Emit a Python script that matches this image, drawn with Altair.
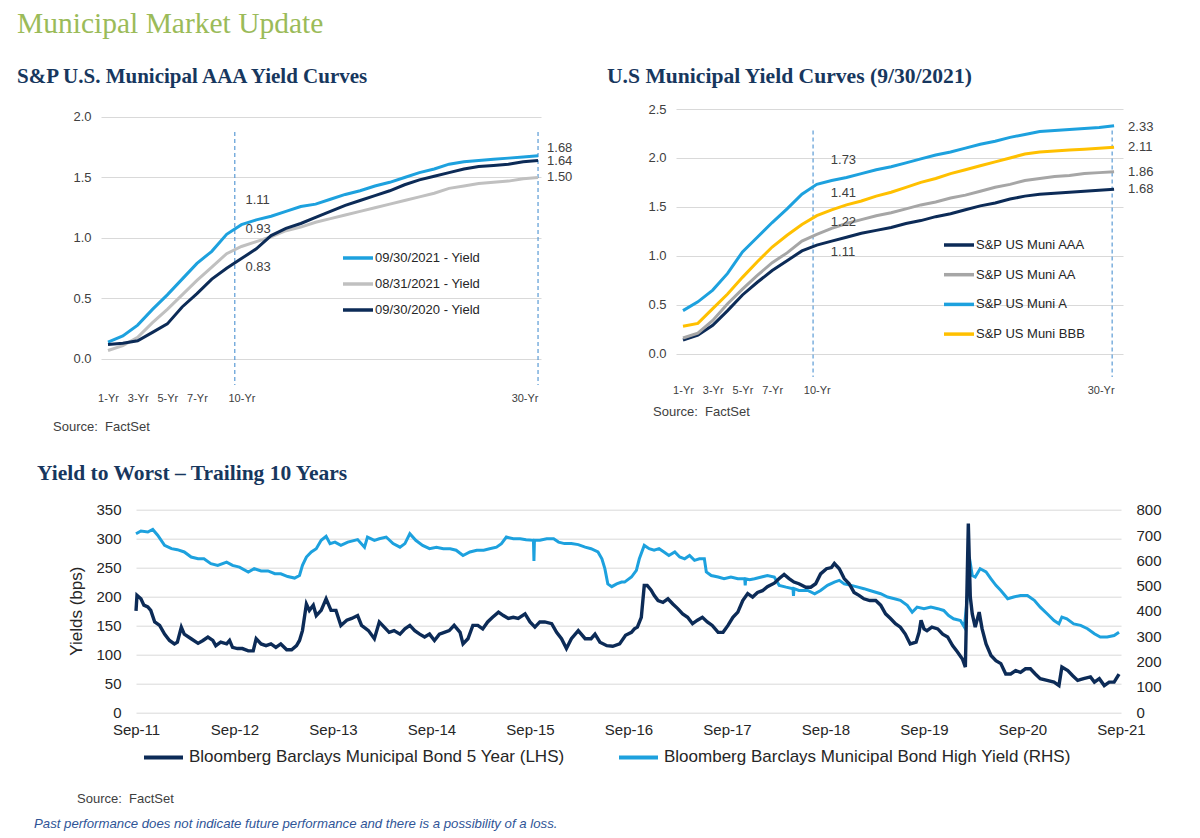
import altair as alt
import pandas as pd

# ---------------- data: S&P U.S. Municipal AAA yield curves (chart A) ----------------
tenors = list(range(1, 31))
a_names = ["09/30/2021 - Yield", "08/31/2021 - Yield", "09/30/2020 - Yield"]
a_sep21 = [0.14, 0.19, 0.28, 0.41, 0.53, 0.66, 0.79, 0.89, 1.03, 1.11, 1.15, 1.18, 1.22, 1.26, 1.28,
           1.32, 1.36, 1.39, 1.43, 1.46, 1.50, 1.54, 1.57, 1.61, 1.63, 1.64, 1.65, 1.66, 1.67, 1.68]
a_aug21 = [0.07, 0.11, 0.18, 0.30, 0.41, 0.53, 0.65, 0.76, 0.87, 0.93, 0.97, 1.01, 1.06, 1.09, 1.13,
           1.16, 1.19, 1.22, 1.25, 1.28, 1.31, 1.34, 1.37, 1.41, 1.43, 1.45, 1.46, 1.47, 1.49, 1.50]
a_sep20 = [0.12, 0.13, 0.15, 0.22, 0.29, 0.43, 0.54, 0.66, 0.75, 0.83, 0.91, 1.02, 1.08, 1.12, 1.17,
           1.22, 1.27, 1.31, 1.35, 1.39, 1.44, 1.48, 1.51, 1.54, 1.57, 1.59, 1.60, 1.61, 1.63, 1.64]
a_markers = [9.55, 30.0]

# ---------------- data: U.S. municipal yield curves by rating (chart B) ----------------
b_names = ["S&P US Muni AAA", "S&P US Muni AA", "S&P US Muni A", "S&P US Muni BBB"]
b_aaa = [0.14, 0.19, 0.29, 0.44, 0.60, 0.73, 0.85, 0.95, 1.05, 1.11, 1.15, 1.19, 1.23, 1.26, 1.29,
         1.33, 1.36, 1.40, 1.43, 1.47, 1.51, 1.54, 1.58, 1.61, 1.63, 1.64, 1.65, 1.66, 1.67, 1.68]
b_aa = [0.16, 0.21, 0.34, 0.51, 0.66, 0.80, 0.93, 1.03, 1.15, 1.22, 1.28, 1.33, 1.37, 1.41, 1.44,
        1.48, 1.52, 1.55, 1.59, 1.62, 1.66, 1.70, 1.73, 1.77, 1.79, 1.81, 1.82, 1.84, 1.85, 1.86]
b_a = [0.44, 0.53, 0.65, 0.82, 1.04, 1.19, 1.34, 1.48, 1.63, 1.73, 1.77, 1.80, 1.84, 1.88, 1.91,
       1.95, 1.99, 2.03, 2.06, 2.10, 2.14, 2.17, 2.21, 2.24, 2.27, 2.28, 2.29, 2.30, 2.31, 2.33]
b_bbb = [0.28, 0.31, 0.46, 0.61, 0.78, 0.94, 1.09, 1.21, 1.32, 1.41, 1.47, 1.52, 1.56, 1.61, 1.65,
         1.70, 1.75, 1.79, 1.84, 1.88, 1.92, 1.96, 2.00, 2.04, 2.06, 2.07, 2.08, 2.09, 2.10, 2.11]
b_markers = [9.75, 29.87]

# ---------------- data: yield to worst, trailing 10 years (chart C) ----------------
c_names = ["Bloomberg Barclays Municipal Bond 5 Year (LHS)",
           "Bloomberg Barclays Municipal Bond High Yield (RHS)"]
m5_t = [2011.70, 2011.71, 2011.75, 2011.78, 2011.82, 2011.85, 2011.89, 2011.94, 2011.99, 2012.04,
        2012.09, 2012.12, 2012.16, 2012.19, 2012.26, 2012.33, 2012.38, 2012.43, 2012.48, 2012.51,
        2012.56, 2012.62, 2012.65, 2012.68, 2012.73, 2012.78, 2012.84, 2012.89, 2012.92, 2012.97,
        2013.02, 2013.07, 2013.12, 2013.17, 2013.23, 2013.28, 2013.33, 2013.36, 2013.39, 2013.43,
        2013.46, 2013.50, 2013.53, 2013.58, 2013.63, 2013.68, 2013.73, 2013.78, 2013.84, 2013.89,
        2013.95, 2013.99, 2014.06, 2014.12, 2014.17, 2014.22, 2014.27, 2014.32, 2014.38, 2014.43,
        2014.48, 2014.53, 2014.58, 2014.63, 2014.68, 2014.73, 2014.78, 2014.83, 2014.88, 2014.93,
        2014.99, 2015.02, 2015.07, 2015.12, 2015.17, 2015.22, 2015.27, 2015.32, 2015.38, 2015.43,
        2015.48, 2015.53, 2015.58, 2015.65, 2015.70, 2015.75, 2015.80, 2015.85, 2015.92, 2015.97,
        2016.02, 2016.07, 2016.12, 2016.19, 2016.26, 2016.32, 2016.36, 2016.41, 2016.48, 2016.54,
        2016.61, 2016.67, 2016.73, 2016.76, 2016.79, 2016.83, 2016.86, 2016.89, 2016.93, 2016.96,
        2017.00, 2017.05, 2017.10, 2017.15, 2017.20, 2017.25, 2017.30, 2017.35, 2017.40, 2017.45,
        2017.50, 2017.55, 2017.61, 2017.66, 2017.71, 2017.76, 2017.81, 2017.86, 2017.91, 2017.96,
        2018.01, 2018.06, 2018.11, 2018.18, 2018.23, 2018.28, 2018.33, 2018.38, 2018.43, 2018.50,
        2018.55, 2018.60, 2018.65, 2018.71, 2018.76, 2018.79, 2018.84, 2018.89, 2018.94, 2018.99,
        2019.04, 2019.09, 2019.15, 2019.21, 2019.26, 2019.31, 2019.36, 2019.41, 2019.46, 2019.51,
        2019.56, 2019.62, 2019.65, 2019.67, 2019.70, 2019.73, 2019.78, 2019.84, 2019.89, 2019.94,
        2019.99, 2020.04, 2020.09, 2020.12, 2020.15, 2020.17, 2020.19, 2020.22, 2020.26, 2020.29,
        2020.33, 2020.38, 2020.43, 2020.48, 2020.53, 2020.58, 2020.63, 2020.68, 2020.73, 2020.78,
        2020.83, 2020.88, 2020.95, 2021.02, 2021.07, 2021.10, 2021.16, 2021.21, 2021.26, 2021.32,
        2021.39, 2021.43, 2021.48, 2021.53, 2021.58, 2021.63, 2021.68]
m5_v = [175, 202, 196, 185, 182, 176, 156, 150, 135, 124,
        118, 121, 147, 135, 127, 119, 124, 130, 124, 115,
        121, 118, 124, 112, 110, 110, 106, 106, 127, 118,
        115, 118, 112, 118, 108, 108, 115, 124, 141, 187,
        176, 185, 167, 176, 196, 176, 176, 150, 159, 162,
        167, 150, 141, 127, 156, 147, 138, 141, 135, 144,
        150, 141, 135, 130, 135, 124, 135, 138, 141, 150,
        138, 118, 127, 150, 150, 144, 156, 164, 173, 167,
        162, 164, 162, 170, 156, 147, 156, 156, 153, 138,
        127, 110, 127, 141, 127, 127, 135, 121, 115, 114,
        118, 133, 138, 144, 147, 164, 219, 219, 211, 202,
        193, 190, 196, 187, 179, 170, 164, 153, 159, 164,
        156, 150, 138, 138, 150, 164, 173, 193, 205, 199,
        207, 210, 217, 223, 231, 238, 231, 225, 222, 216,
        216, 222, 239, 248, 250, 257, 248, 231, 222, 207,
        202, 196, 193, 193, 185, 170, 162, 153, 147, 135,
        118, 121, 138, 159, 144, 141, 147, 144, 135, 130,
        115, 104, 92, 78, 326, 199, 170, 147, 173, 144,
        118, 98, 89, 84, 66, 66, 72, 69, 75, 75,
        66, 58, 55, 52, 46, 78, 72, 63, 55, 58,
        61, 52, 58, 46, 52, 52, 66]
hy_t = [2011.70, 2011.75, 2011.82, 2011.87, 2011.92, 2011.99, 2012.06, 2012.12, 2012.19, 2012.26,
        2012.33, 2012.39, 2012.46, 2012.53, 2012.62, 2012.68, 2012.75, 2012.84, 2012.90, 2012.97,
        2013.04, 2013.11, 2013.17, 2013.24, 2013.31, 2013.36, 2013.39, 2013.43, 2013.48, 2013.53,
        2013.58, 2013.63, 2013.67, 2013.72, 2013.78, 2013.85, 2013.95, 2014.02, 2014.05, 2014.12,
        2014.17, 2014.24, 2014.31, 2014.38, 2014.43, 2014.48, 2014.54, 2014.61, 2014.68, 2014.75,
        2014.82, 2014.89, 2014.95, 2015.02, 2015.09, 2015.16, 2015.23, 2015.29, 2015.36, 2015.41,
        2015.46, 2015.53, 2015.60, 2015.66, 2015.735, 2015.74, 2015.745, 2015.80, 2015.87, 2015.94,
        2015.99, 2016.05, 2016.12, 2016.19, 2016.26, 2016.32, 2016.39, 2016.43, 2016.46, 2016.49,
        2016.53, 2016.58, 2016.63, 2016.66, 2016.73, 2016.78, 2016.81, 2016.86, 2016.91, 2016.96,
        2017.01, 2017.06, 2017.11, 2017.17, 2017.22, 2017.27, 2017.32, 2017.37, 2017.42, 2017.47,
        2017.49, 2017.54, 2017.61, 2017.67, 2017.74, 2017.81, 2017.88, 2017.885, 2017.89, 2017.93,
        2017.98, 2018.05, 2018.11, 2018.18, 2018.23, 2018.30, 2018.37, 2018.375, 2018.38, 2018.43,
        2018.52, 2018.59, 2018.65, 2018.72, 2018.79, 2018.84, 2018.89, 2018.96, 2019.03, 2019.09,
        2019.15, 2019.26, 2019.33, 2019.40, 2019.46, 2019.53, 2019.58, 2019.63, 2019.70, 2019.77,
        2019.84, 2019.90, 2019.95, 2020.00, 2020.07, 2020.11, 2020.14, 2020.16, 2020.19, 2020.22,
        2020.27, 2020.33, 2020.38, 2020.43, 2020.48, 2020.55, 2020.61, 2020.68, 2020.75, 2020.82,
        2020.88, 2020.95, 2021.02, 2021.07, 2021.10, 2021.15, 2021.22, 2021.29, 2021.36, 2021.43,
        2021.49, 2021.56, 2021.63, 2021.68]
hy_v = [705, 716, 712, 722, 699, 659, 646, 642, 633, 613,
        606, 606, 587, 580, 593, 580, 573, 554, 567, 558,
        558, 547, 547, 536, 530, 540, 580, 613, 633, 646,
        679, 695, 666, 672, 659, 672, 682, 652, 692, 679,
        685, 692, 666, 652, 666, 705, 679, 659, 646, 652,
        646, 646, 640, 619, 633, 640, 640, 646, 652, 666,
        692, 685, 685, 681, 679, 597, 679, 679, 685, 685,
        672, 666, 666, 662, 652, 646, 633, 606, 567, 507,
        496, 507, 514, 514, 534, 560, 606, 659, 646, 640,
        646, 633, 619, 633, 613, 606, 619, 600, 606, 606,
        554, 540, 534, 527, 534, 527, 527, 501, 527, 523,
        527, 534, 540, 534, 501, 494, 488, 459, 488, 481,
        481, 468, 481, 501, 514, 521, 507, 501, 494, 488,
        481, 468, 455, 448, 442, 422, 395, 415, 409, 415,
        409, 402, 382, 369, 362, 336, 455, 613, 540, 534,
        567, 554, 527, 501, 481, 448, 455, 461, 461, 442,
        415, 389, 362, 349, 376, 369, 349, 343, 330, 310,
        297, 297, 303, 316]
sep_ticks = [2011.7 + k for k in range(11)]

# ---------------- styling ----------------
SANS = "Liberation Sans, Arial, sans-serif"
NARROW = "Liberation Sans Narrow, Liberation Sans, Arial, sans-serif"
SERIF = "Liberation Serif, Georgia, serif"
NAVY = "#0C2B57"
LBLUE = "#1DA1DE"
GRAY_A = "#C0C0C0"
GRAY_B = "#A6A6A6"
GOLD = "#FFC000"
TITLE = "#17375E"
GRID = "#D9D9D9"
DASH = "#5B9BD5"
LAB = "#404040"


def text_layer(txt, x, y, size=13, font=SANS, color=LAB, weight="normal", style="normal",
               align="left", baseline="middle"):
    return alt.Chart(pd.DataFrame({"t": [txt]})).mark_text(
        align=align, baseline=baseline, fontSize=size, font=font, color=color,
        fontWeight=weight, fontStyle=style
    ).encode(x=alt.value(x), y=alt.value(y), text="t:N")


def value_label(xval, yval, dx, dy, xscale, yscale):
    return alt.Chart(pd.DataFrame({"x": [xval], "y": [yval], "t": [f"{yval:.2f}"]})).mark_text(
        align="left", baseline="middle", fontSize=13, font=SANS, color=LAB, dx=dx, dy=dy
    ).encode(x=alt.X("x:Q", scale=xscale), y=alt.Y("y:Q", scale=yscale), text="t:N")


def curve_panel(names, series, colors, ydom, yvals, xdom, markers, mtop,
                legend_x, legend_y, row_pad, labels_mid, labels_end, mid_dx, end_dx):
    rows = []
    for n, vals in zip(names, series):
        for t, v in zip(tenors, vals):
            rows.append({"tenor": t, "value": v, "series": n})
    df = pd.DataFrame(rows)
    xscale = alt.Scale(domain=xdom, nice=False, zero=False)
    yscale = alt.Scale(domain=ydom, nice=False, zero=False)
    lines = alt.Chart(df).mark_line(strokeWidth=3).encode(
        x=alt.X("tenor:Q", scale=xscale, axis=alt.Axis(
            values=[1, 3, 5, 7, 10, 30], labelExpr="datum.value + '-Yr'", grid=False, domain=False,
            ticks=False, labelPadding=7, labelFontSize=11, labelFont=NARROW, labelColor=LAB,
            labelFlush=False,
            labelAlign=alt.condition("datum.value == 30", alt.value("right"), alt.value("center")),
            title=None)),
        y=alt.Y("value:Q", scale=yscale, axis=alt.Axis(
            values=yvals, format=".1f", grid=True, gridColor=GRID, domain=False, ticks=False,
            labelPadding=10, labelFontSize=13, labelFont=SANS, labelColor=LAB, title=None)),
        color=alt.Color("series:N", scale=alt.Scale(domain=names, range=colors), legend=alt.Legend(
            orient="none", legendX=legend_x, legendY=legend_y, title=None, symbolType="stroke",
            symbolSize=900, symbolStrokeWidth=3.5, labelFontSize=13, labelFont=SANS,
            labelColor="#262626", rowPadding=row_pad, labelOffset=0, labelLimit=400)),
    )
    rules = alt.Chart(pd.DataFrame({"x": markers})).mark_rule(
        color=DASH, strokeDash=[4, 3], strokeWidth=1.2
    ).encode(x=alt.X("x:Q", scale=xscale), y=alt.datum(mtop), y2=alt.datum(ydom[0]))
    layers = [rules, lines]
    for (val, dy) in labels_mid:
        layers.append(value_label(10, val, mid_dx, dy, xscale, yscale))
    for (val, dy) in labels_end:
        layers.append(value_label(30, val, end_dx, dy, xscale, yscale))
    return layers


# ---------------- chart A ----------------
a_layers = curve_panel(
    a_names, [a_sep21, a_aug21, a_sep20], [LBLUE, GRAY_A, NAVY],
    [-0.215, 2.066], [0, 0.5, 1.0, 1.5, 2.0], [0.528, 30.2], a_markers, 1.876,
    240, 132, 2,
    [(a_sep21[9], -25), (a_aug21[9], -17), (a_sep20[9], 8)],
    [(a_sep21[29], -8), (a_sep20[29], 0), (a_aug21[29], 0)], 4, 9)
a_layers += [
    text_layer("Municipal Market Update", -84, -85, size=29.5, font=SERIF, color="#9BBB59"),
    text_layer("S&P U.S. Municipal AAA Yield Curves", -84, -32, size=21, font=SERIF, color=TITLE,
               weight="bold"),
    text_layer("Source:\u00a0 FactSet", -48, 318, size=13),
]
chart_a = alt.layer(*a_layers).properties(width=440, height=276)

# ---------------- chart B ----------------
b_layers = curve_panel(
    b_names, [b_aaa, b_aa, b_a, b_bbb], [NAVY, GRAY_B, LBLUE, GOLD],
    [-0.238, 2.5], [0, 0.5, 1.0, 1.5, 2.0, 2.5], [0.529, 30.6], b_markers, 2.28,
    266, 119, 5.7,
    [(b_a[9], -24), (b_bbb[9], -23), (b_aa[9], -12), (b_aaa[9], 7)],
    [(b_a[29], 1), (b_bbb[29], 0), (b_aa[29], 0), (b_aaa[29], 0)], 14, 14)
b_layers += [
    text_layer("U.S Municipal Yield Curves (9/30/2021)", -69, -32, size=21.6, font=SERIF, color=TITLE,
               weight="bold"),
    text_layer("Source:\u00a0 FactSet", -23, 303, size=13),
]
chart_b = alt.layer(*b_layers).properties(width=447, height=268)

# ---------------- chart C ----------------
df_m5 = pd.DataFrame({"t": m5_t, "v": m5_v, "series": c_names[0]})
df_hy = pd.DataFrame({"t": hy_t, "v": hy_v, "series": c_names[1]})
c_x = alt.X("t:Q", scale=alt.Scale(domain=[2011.7, 2021.7], nice=False, zero=False), axis=alt.Axis(
    values=sep_ticks, labelExpr="'Sep-' + format(floor(datum.value + 0.001) % 100, '02d')",
    grid=False, domain=False, ticks=False, labelPadding=10, labelFontSize=15, labelFont=SANS,
    labelColor="#262626", labelFlush=False, title=None))
c_color = alt.Color("series:N", scale=alt.Scale(domain=c_names, range=[NAVY, LBLUE]), legend=alt.Legend(
    orient="none", legendX=41, legendY=226, direction="horizontal", title=None, symbolType="stroke",
    symbolSize=1521, symbolStrokeWidth=4, labelFontSize=17, labelFont=SANS, labelColor="#262626",
    columnPadding=46, labelOffset=4, labelLimit=1000))
hy_line = alt.Chart(df_hy).mark_line(strokeWidth=3).encode(
    x=c_x,
    y=alt.Y("v:Q", scale=alt.Scale(domain=[0, 800], nice=False), axis=alt.Axis(
        orient="right", values=list(range(0, 801, 100)), grid=False, domain=False, ticks=False,
        labelPadding=15, labelFontSize=15, labelFont=SANS, labelColor="#262626", title=None)),
    color=c_color,
)
m5_line = alt.Chart(df_m5).mark_line(strokeWidth=3.4).encode(
    x=c_x,
    y=alt.Y("v:Q", scale=alt.Scale(domain=[0, 350], nice=False), axis=alt.Axis(
        orient="left", values=list(range(0, 351, 50)), grid=True, gridColor=GRID, domain=False,
        ticks=False, labelPadding=15, labelFontSize=15, labelFont=SANS, labelColor="#262626",
        title="Yields (bps)", titleFontSize=17, titleFont=SANS, titleFontWeight="normal",
        titleColor="#262626", titleX=-60, titleY=101, titleBaseline="middle")),
    color=c_color,
)
lines_c = alt.layer(hy_line, m5_line).resolve_scale(y="independent")
chart_c = alt.layer(
    lines_c,
    text_layer("Yield to Worst \u2013 Trailing 10 Years", -99, -36, size=21.5, font=SERIF, color=TITLE,
               weight="bold"),
    text_layer("Source:\u00a0 FactSet", -59, 289, size=13),
    text_layer("Past performance does not indicate future performance and there is a possibility of a loss.",
               -102, 314, size=13.2, color="#2F5597", style="italic"),
).properties(width=985, height=202.5)

spacer = alt.Chart(pd.DataFrame({"a": [0]})).mark_point(opacity=0).encode(
    x=alt.value(0), y=alt.value(0)).properties(width=35, height=10)

top = alt.hconcat(chart_a, chart_b, spacing=135, bounds="flush").resolve_scale(color="independent")
bottom = alt.hconcat(spacer, chart_c, spacing=0, bounds="flush")
chart = alt.vconcat(top, bottom, spacing=400.7, bounds="flush").resolve_scale(
    color="independent"
).properties(
    padding={"left": 8, "top": 0, "right": 5, "bottom": 5},
    background="white",
).configure_view(stroke="transparent")

chart.save("out.html", embed_options={"renderer": "svg", "actions": False})
